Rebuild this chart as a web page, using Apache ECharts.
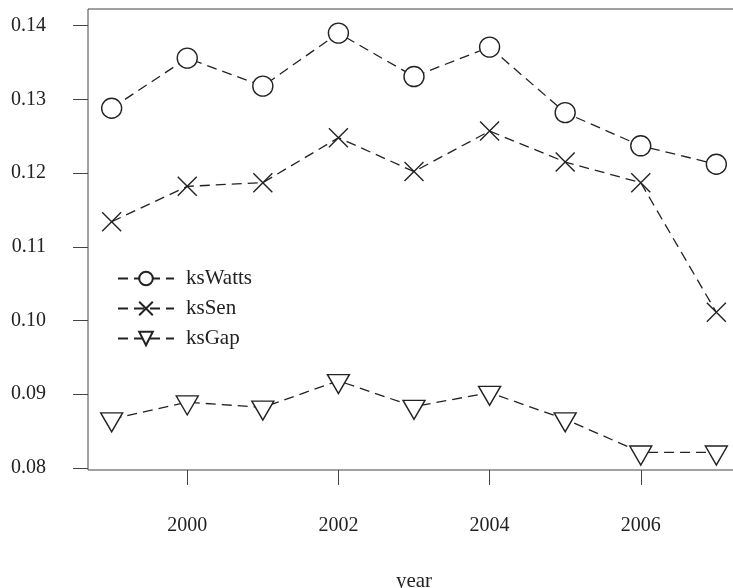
<!DOCTYPE html>
<html>
<head>
<meta charset="utf-8">
<script src="https://cdn.jsdelivr.net/npm/echarts@6/dist/echarts.min.js"></script>
<style>
  html, body { margin: 0; padding: 0; background: #fff; overflow: hidden; }
  #chart { width: 733px; height: 588px; }
</style>
</head>
<body>
<div id="chart"></div>
<script>
// Yearly values of the three poverty indices
const years   = [1999, 2000, 2001, 2002, 2003, 2004, 2005, 2006, 2007];
const ksWatts = [0.1288, 0.1356, 0.1318, 0.1390, 0.1331, 0.1371, 0.1282, 0.1237, 0.1212];
const ksSen   = [0.1134, 0.1182, 0.1187, 0.1248, 0.1202, 0.1257, 0.1215, 0.1187, 0.1011];
const ksGap   = [0.0866, 0.0889, 0.0882, 0.0918, 0.0883, 0.0902, 0.0866, 0.0821, 0.0821];

// Axis ticks
const xTicks = [2000, 2002, 2004, 2006];
const yTicks = [0.08, 0.09, 0.10, 0.11, 0.12, 0.13, 0.14];

const INK = '#222';
const FONT = 'Liberation Serif';
const dash = [10, 6];

const pairs = vals => years.map((y, i) => [y, vals[i]]);

const crossPath = 'path://M0,0L20,20M20,0L0,20';
const downTriPath = 'path://M0,0L20,0L10,17.32Z';

function lineSeries(name, vals, symbol, size, offset) {
  return {
    name: name,
    type: 'line',
    data: pairs(vals),
    symbol: symbol,
    symbolSize: size,
    symbolOffset: offset || [0, 0],
    showAllSymbol: true,
    lineStyle: { color: INK, width: 1.3, type: dash },
    itemStyle: { color: '#fff', borderColor: INK, borderWidth: 1.4 },
    emphasis: { disabled: true },
    animation: false,
    z: 3
  };
}

const chart = echarts.init(document.getElementById('chart'), null, { renderer: 'canvas' });
chart.setOption({
  backgroundColor: '#fff',
  animation: false,
  grid: {
    // plot region runs slightly past the right edge of the canvas
    left: 88, top: 9, right: -7, bottom: 118,
    outerBoundsMode: 'none',
    containLabel: false,
    show: true, borderColor: '#444', borderWidth: 1, backgroundColor: 'transparent'
  },
  legend: {
    orient: 'vertical',
    left: 112, top: 263,
    itemWidth: 56, itemHeight: 17,
    itemGap: 9,
    selectedMode: false,
    textStyle: { fontFamily: FONT, fontSize: 21, color: INK, padding: [0, 0, 0, 7] },
    data: ['ksWatts', 'ksSen', 'ksGap']
  },
  xAxis: {
    type: 'value',
    min: 1998.687, max: 2007.313,
    name: 'year',
    nameLocation: 'middle',
    nameGap: 101,
    nameTextStyle: { fontFamily: FONT, fontSize: 21, color: INK },
    axisLine: { show: false },
    splitLine: { show: false },
    axisTick: { show: true, length: 15, inside: false, customValues: xTicks,
                lineStyle: { color: '#444', width: 1 } },
    axisLabel: { customValues: xTicks, margin: 46, fontFamily: FONT, fontSize: 20, color: INK,
                 formatter: v => String(v) }
  },
  yAxis: {
    type: 'value',
    min: 0.0797, max: 0.14227,
    axisLine: { show: false },
    splitLine: { show: false },
    axisTick: { show: true, length: 15, inside: false, customValues: yTicks,
                lineStyle: { color: '#444', width: 1 } },
    axisLabel: { customValues: yTicks, margin: 42, fontFamily: FONT, fontSize: 20, color: INK,
                 formatter: v => v.toFixed(2) }
  },
  series: [
    lineSeries('ksWatts', ksWatts, 'circle', 20),
    lineSeries('ksSen', ksSen, crossPath, 19),
    lineSeries('ksGap', ksGap, downTriPath, [22, 19], [0, 3.2])
  ]
});
</script>
</body>
</html>
